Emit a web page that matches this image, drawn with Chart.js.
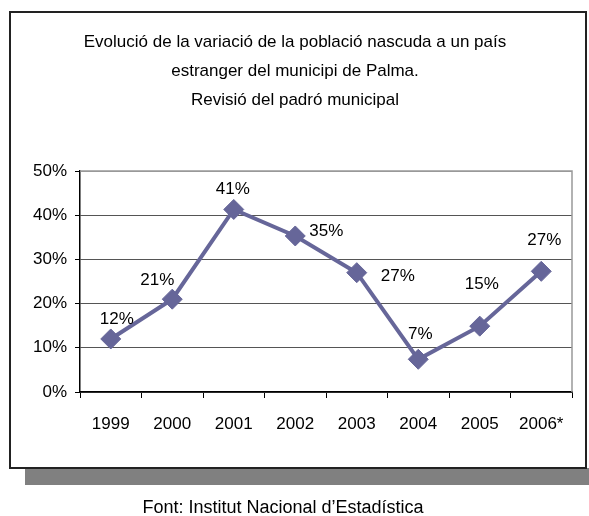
<!DOCTYPE html>
<html>
<head>
<meta charset="utf-8">
<script src="https://cdn.jsdelivr.net/npm/chart.js@4/dist/chart.umd.min.js"></script>
<style>
  html, body { margin: 0; padding: 0; background: #fff; }
  #wrap { width: 589px; height: 516px; position: relative; }
</style>
</head>
<body>
<div id="wrap"><canvas id="chart"></canvas></div>
<script>
// data
const years = ["1999", "2000", "2001", "2002", "2003", "2004", "2005", "2006*"];
const variation = [12, 21, 41.3, 35.3, 27, 7.4, 14.9, 27.3];
const yTicks = [0, 10, 20, 30, 40, 50];
const titleLines = [
  "Evolució de la variació de la població nascuda a un país",
  "estranger del municipi de Palma.",
  "Revisió del padró municipal"
];
const sourceText = "Font: Institut Nacional d\u2019Estadística";

// label nudges (px) relative to each marker, as placed in the original
const labelDx = [6, -15, -1, 31, 41, 2, 2, 3];
const labelDy = [-20, -19, -20, -5, 4, -25, -42, -31];

const FONT = '"Liberation Sans", Arial, sans-serif';
const lineColor = "#666699";

const frame = {
  id: "frame",
  beforeDraw(chart) {
    const ctx = chart.ctx;
    ctx.save();
    ctx.fillStyle = "#fff";
    ctx.fillRect(0, 0, chart.width, chart.height);
    // shadow
    ctx.fillStyle = "#808080";
    ctx.fillRect(25, 468, 564, 17);
    // box
    ctx.fillStyle = "#fff";
    ctx.fillRect(10, 12, 576, 456);
    ctx.strokeStyle = "#222";
    ctx.lineWidth = 2;
    ctx.strokeRect(10, 12, 576, 456);
    // title
    ctx.fillStyle = "#000";
    ctx.font = "17px " + FONT;
    ctx.textAlign = "center";
    ctx.textBaseline = "middle";
    titleLines.forEach((t, i) => ctx.fillText(t, 295, 42 + i * 29));
    ctx.font = "18px " + FONT;
    ctx.fillText(sourceText, 283, 508);
    ctx.restore();
  },
  afterDraw(chart) {
    const { ctx, chartArea } = chart;
    ctx.save();
    ctx.strokeStyle = "#999";
    ctx.lineWidth = 1.5;
    ctx.beginPath();
    ctx.moveTo(chartArea.left, chartArea.top);
    ctx.lineTo(chartArea.right, chartArea.top);
    ctx.lineTo(chartArea.right, chartArea.bottom);
    ctx.stroke();
    ctx.restore();
  }
};

const valueLabels = {
  id: "valueLabels",
  afterDatasetsDraw(chart) {
    const ctx = chart.ctx;
    const meta = chart.getDatasetMeta(0);
    ctx.save();
    ctx.fillStyle = "#000";
    ctx.font = "17px " + FONT;
    ctx.textAlign = "center";
    ctx.textBaseline = "middle";
    meta.data.forEach((pt, i) => {
      ctx.fillText(Math.round(variation[i]) + "%", pt.x + labelDx[i], pt.y + labelDy[i]);
    });
    ctx.restore();
  }
};

new Chart(document.getElementById("chart"), {
  type: "line",
  data: {
    labels: years,
    datasets: [{
      data: variation,
      borderColor: lineColor,
      backgroundColor: lineColor,
      borderWidth: 4,
      pointStyle: "rectRot",
      pointRadius: 10,
      pointHoverRadius: 10,
      pointBackgroundColor: lineColor,
      pointBorderColor: lineColor,
      pointBorderWidth: 1,
      tension: 0
    }]
  },
  options: {
    responsive: true,
    maintainAspectRatio: false,
    animation: false,
    layout: { padding: { top: 171, right: 17, left: 0, bottom: 0 } },
    plugins: {
      legend: { display: false },
      tooltip: { enabled: false }
    },
    scales: {
      x: {
        offset: true,
        grid: {
          offset: true,
          drawOnChartArea: false,
          color: "#000",
          tickLength: 6
        },
        border: { color: "#000", width: 1.5 },
        ticks: {
          color: "#000",
          font: { family: FONT, size: 17 },
          padding: 16,
          maxRotation: 0
        },
        afterFit(scale) { scale.height = 124; }
      },
      y: {
        min: 0,
        max: 50,
        afterBuildTicks(scale) { scale.ticks = yTicks.map(v => ({ value: v })); },
        grid: {
          color: ctx => ctx.tick && ctx.tick.value === 50 ? "#999" : "#555",
          lineWidth: 1,
          tickLength: 5,
          tickColor: "#000"
        },
        border: { color: "#000", width: 1.5 },
        ticks: {
          color: "#000",
          font: { family: FONT, size: 17 },
          padding: 8,
          callback: v => v + "%"
        },
        afterFit(scale) { scale.width = 80; }
      }
    }
  },
  plugins: [frame, valueLabels]
});
</script>
</body>
</html>
